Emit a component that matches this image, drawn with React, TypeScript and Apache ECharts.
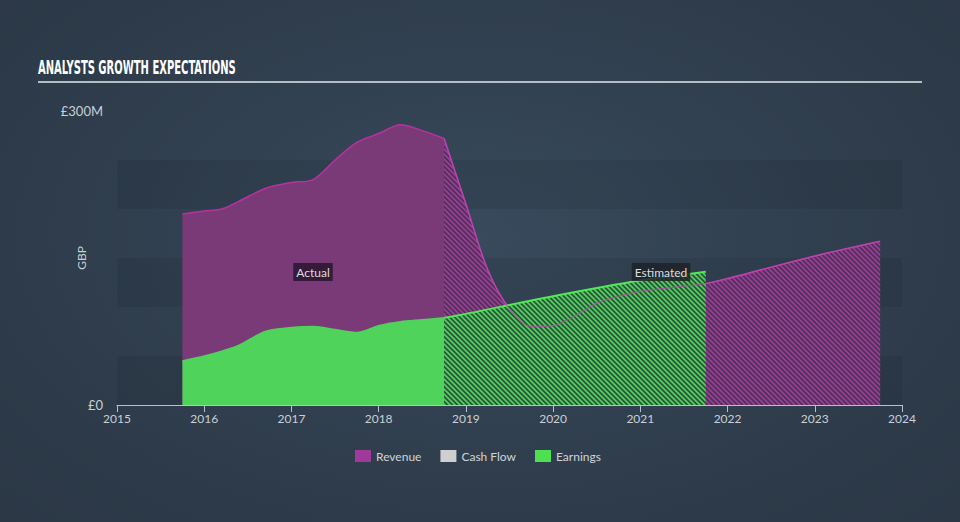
import React, { useEffect, useRef } from "react";
import * as echarts from "echarts";

const actualYears = [2015.75, 2016, 2016.2, 2016.4, 2016.7, 2017, 2017.25, 2017.5, 2017.75, 2018, 2018.25, 2018.5, 2018.75];
const revenueActual = [195, 198, 200, 208, 221, 227, 230, 250, 268, 277, 286, 280, 272];
const earningsActual = [45, 50, 55, 61, 75, 79, 80, 77, 74, 81, 85, 87, 89];

const revenueEstYears = [2018.75, 2019, 2019.25, 2019.5, 2019.75, 2020, 2020.25, 2020.5, 2020.75, 2021, 2021.75, 2022, 2023, 2023.75];
const revenueEstimate = [272, 205, 138, 98, 80, 81, 91, 104, 111, 116, 124, 129, 152, 167];

const earningsEstYears = [2018.75, 2019, 2020, 2021, 2021.75];
const earningsEstimate = [89, 93, 111, 127, 136];

const legendNames = ["Revenue", "Cash Flow", "Earnings"];
const yTickLabels: Record<number, string> = { 0: "£0", 300: "£300M" };

const pair = (xs: number[], ys: number[]) => xs.map((x, i) => [x, ys[i]]);

function stripes(bg: string, fg: string, size = 5, width = 1.7) {
  const c = document.createElement("canvas");
  c.width = size;
  c.height = size;
  const ctx = c.getContext("2d")!;
  ctx.fillStyle = bg;
  ctx.fillRect(0, 0, size, size);
  ctx.strokeStyle = fg;
  ctx.lineWidth = width;
  ctx.beginPath();
  ctx.moveTo(0, 0);
  ctx.lineTo(size, size);
  ctx.moveTo(-size / 2, size / 2);
  ctx.lineTo(size / 2, size * 1.5);
  ctx.moveTo(size / 2, -size / 2);
  ctx.lineTo(size * 1.5, size / 2);
  ctx.stroke();
  return { image: c, repeat: "repeat" as const };
}

const TITLE = "ANALYSTS GROWTH EXPECTATIONS";
const TITLE_FONT = "bold 19px 'DejaVu Sans Condensed', 'Liberation Sans', sans-serif";

export default function App() {
  const ref = useRef<HTMLDivElement>(null);
  useEffect(() => {
    if (!ref.current) return;
    const chart = echarts.init(ref.current, null, { renderer: "svg" });
    const font = "Lato, 'Open Sans', sans-serif";
    const purplePattern = stripes("#4c3459", "#a03c97");
    const greenPattern = stripes("#2f5240", "#4fd35a");
    const mc = document.createElement("canvas").getContext("2d")!;
    mc.font = TITLE_FONT;
    const tw = mc.measureText(TITLE).width || 300;
    const titleScale = 198 / tw;
    chart.setOption({
      animation: false,
      backgroundColor: "transparent",
      textStyle: { fontFamily: font },
      grid: { left: 117, right: 58, top: 111, bottom: 117 },
      graphic: [
        {
          type: "text",
          x: 38,
          y: 58,
          scaleX: titleScale,
          style: {
            text: TITLE,
            fill: "#ffffff",
            font: TITLE_FONT,
          },
        },
        {
          type: "line",
          shape: { x1: 38, y1: 82, x2: 922, y2: 82 },
          style: { stroke: "#b4bcc4", lineWidth: 2 },
        },
        {
          type: "text",
          x: 313,
          y: 272,
          z: 100,
          style: {
            text: "Actual",
            fill: "#dcdce0",
            font: `12px ${font}`,
            align: "center",
            verticalAlign: "middle",
            backgroundColor: "rgba(40,22,45,0.85)",
            padding: [3, 3],
          },
        },
        {
          type: "text",
          x: 661,
          y: 272,
          z: 100,
          style: {
            text: "Estimated",
            fill: "#dcdce0",
            font: `12px ${font}`,
            align: "center",
            verticalAlign: "middle",
            backgroundColor: "rgba(30,34,40,0.85)",
            padding: [3, 3],
          },
        },
      ],
      legend: {
        data: [
          { name: legendNames[0], itemStyle: { color: "#a0399a" } },
          { name: legendNames[1], itemStyle: { color: "#cfcfcf" } },
          { name: legendNames[2], itemStyle: { color: "#4fe04f" } },
        ],
        bottom: 55,
        left: 350,
        icon: "rect",
        itemWidth: 16,
        itemHeight: 12,
        itemGap: 19,
        textStyle: { color: "#d0d4d8", fontSize: 12, fontFamily: font },
      },
      xAxis: {
        type: "value",
        min: 2015,
        max: 2024,
        interval: 1,
        axisLine: { lineStyle: { color: "#b8c2cc", width: 1 } },
        axisTick: { show: true, length: 7, lineStyle: { color: "#b8c2cc" } },
        axisLabel: { color: "#c8d0d8", fontSize: 12, margin: 7, formatter: (v: number) => String(v) },
        splitLine: { show: false },
      },
      yAxis: {
        type: "value",
        min: 0,
        max: 300,
        interval: 50,
        name: "GBP",
        nameLocation: "middle",
        nameGap: 30,
        nameRotate: 90,
        nameMoveOverlap: false,
        nameTextStyle: { color: "#c8d0d8", fontSize: 12 },
        axisLine: { show: false },
        axisTick: { show: false },
        axisLabel: {
          color: "#c8d0d8",
          fontSize: 13,
          margin: 14,
          formatter: (v: number) => yTickLabels[v] ?? "",
        },
        splitLine: { show: false },
        splitArea: { show: true, areaStyle: { color: ["rgba(0,0,0,0.07)", "rgba(0,0,0,0)"] } },
      },
      series: [
        {
          name: "Revenue",
          type: "line",
          data: pair(actualYears, revenueActual),
          smooth: 0.3,
          symbol: "none",
          z: 1,
          lineStyle: { color: "#b8329f", width: 1.5 },
          itemStyle: { color: "#a0399a" },
          areaStyle: { color: "#7a3a78", opacity: 1 },
        },
        {
          name: "Revenue Estimate",
          type: "line",
          data: pair(revenueEstYears, revenueEstimate),
          smooth: 0.3,
          symbol: "none",
          z: 1,
          lineStyle: { color: "#c23aaa", width: 1.5 },
          areaStyle: { color: purplePattern, opacity: 1 },
        },
        {
          name: "Cash Flow",
          type: "line",
          data: [],
          itemStyle: { color: "#cfcfcf" },
        },
        {
          name: "Earnings",
          type: "line",
          data: pair(actualYears, earningsActual),
          smooth: 0.3,
          symbol: "none",
          z: 2,
          lineStyle: { color: "#4fd35a", width: 1.5 },
          itemStyle: { color: "#4fe04f" },
          areaStyle: { color: "#4fd35a", opacity: 1 },
        },
        {
          name: "Earnings Estimate",
          type: "line",
          data: pair(earningsEstYears, earningsEstimate),
          smooth: 0.3,
          symbol: "none",
          z: 2,
          lineStyle: { color: "#52e85a", width: 2 },
          areaStyle: { color: greenPattern, opacity: 1 },
        },
        {
          name: "Revenue Estimate Line",
          type: "line",
          data: pair(revenueEstYears, revenueEstimate),
          smooth: 0.3,
          symbol: "none",
          z: 3,
          silent: true,
          lineStyle: { color: "#b44aae", width: 1.2, opacity: 0.75 },
        },
      ],
    });
    return () => chart.dispose();
  }, []);
  return (
    <div
      style={{
        position: "absolute",
        left: 0,
        top: 0,
        width: 960,
        height: 522,
        background: "radial-gradient(ellipse at 50% 45%, #384a5c 0%, #2f3d4c 60%, #2b3745 100%)",
      }}
    >
      <div ref={ref} style={{ width: 960, height: 522 }} />
    </div>
  );
}
